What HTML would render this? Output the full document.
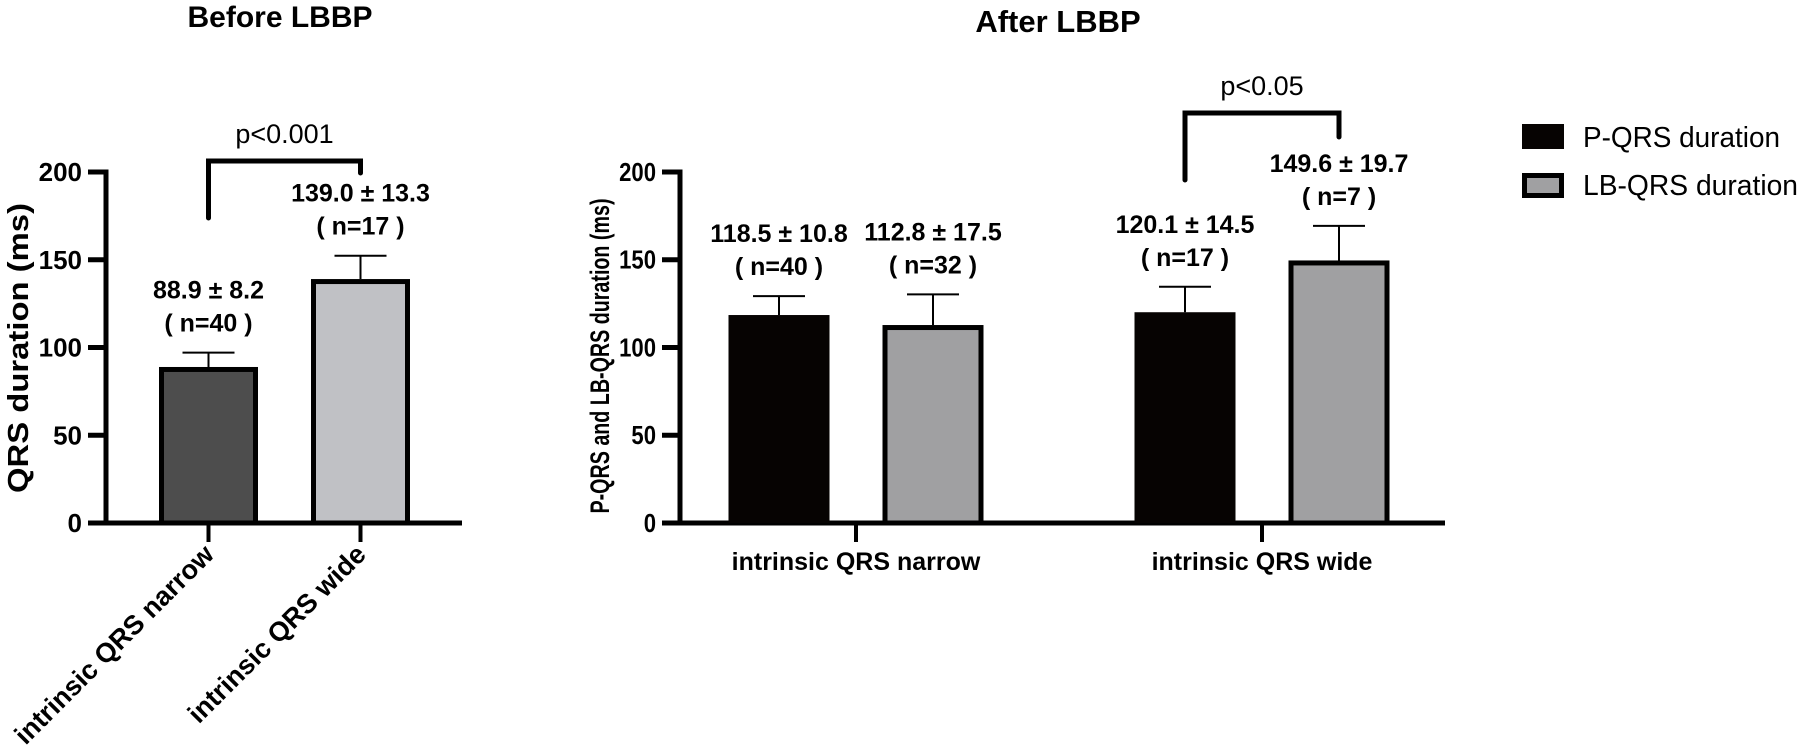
<!DOCTYPE html>
<html><head><meta charset="utf-8"><style>
html,body{margin:0;padding:0;background:#fff;}
svg{display:block;font-family:"Liberation Sans",Arial,sans-serif;}
</style></head><body>
<svg id="fig" width="1798" height="754" viewBox="0 0 1798 754" xmlns="http://www.w3.org/2000/svg">
<text x="280" y="27" font-size="30" font-weight="bold" text-anchor="middle">Before LBBP</text>
<text x="1058" y="32" font-size="31" font-weight="bold" text-anchor="middle">After LBBP</text>
<text transform="translate(28,348) rotate(-90)" font-size="29" font-weight="bold" text-anchor="middle" textLength="290" lengthAdjust="spacingAndGlyphs">QRS duration (ms)</text>
<text transform="translate(609,356) rotate(-90)" font-size="27" font-weight="bold" text-anchor="middle" textLength="315" lengthAdjust="spacingAndGlyphs">P-QRS and LB-QRS duration (ms)</text>
<g>
<rect x="1522" y="124" width="42" height="25" fill="#060302"/>
<text x="1583" y="147" font-size="29" textLength="197" lengthAdjust="spacingAndGlyphs">P-QRS duration</text>
<rect x="1524.5" y="175.5" width="37" height="20" fill="#a0a0a2" stroke="#000" stroke-width="5"/>
<text x="1583" y="195" font-size="29" textLength="215" lengthAdjust="spacingAndGlyphs">LB-QRS duration</text>
</g>
<g id="left"></g>
<g id="right"></g>
</svg>
<script>
// Left chart data
const leftCats = ["intrinsic QRS narrow", "intrinsic QRS wide"];
const leftMeans = [88.9, 139.0];
const leftSD = [8.2, 13.3];
const leftN = [40, 17];
const leftFills = ["#4d4d4d", "#c0c1c5"];
// Right chart data
const rightCats = ["intrinsic QRS narrow", "intrinsic QRS wide"];
const pqrsMeans = [118.5, 120.1];
const pqrsSD = [10.8, 14.5];
const pqrsN = [40, 17];
const lbqrsMeans = [112.8, 149.6];
const lbqrsSD = [17.5, 19.7];
const lbqrsN = [32, 7];
const yTicks = [0, 50, 100, 150, 200];

const NS = "http://www.w3.org/2000/svg";
const y0 = 523, pxPerUnit = 351 / 200;
function yScale(v) { return y0 - v * pxPerUnit; }
function mk(parent, tag, attrs, text) {
  const e = document.createElementNS(NS, tag);
  for (const k in attrs) e.setAttribute(k, attrs[k]);
  if (text !== undefined) e.textContent = text;
  parent.appendChild(e);
  return e;
}
function fmt(v) { return v.toFixed(1); }

function axes(g, axX, xEnd, narrowLabels) {
  let e = mk(g, "line", {x1: axX, y1: yScale(200) - 2.5, x2: axX, y2: y0 + 2.5, stroke: "#000", "stroke-width": 5});
  
  
  e = mk(g, "line", {x1: axX - 18, y1: y0, x2: xEnd, y2: y0, stroke: "#000", "stroke-width": 5});
  
  
  yTicks.forEach(t => {
    const y = yScale(t);
    let tk = mk(g, "line", {x1: axX - 18, y1: y, x2: axX, y2: y, stroke: "#000", "stroke-width": 5});
    
    
    let tl = mk(g, "text", {x: axX - 24, y: y + 9, "font-size": 26, "font-weight": "bold", "text-anchor": "end"}, String(t));
    if (narrowLabels) { tl.setAttribute("transform", `translate(${axX - 24},0) scale(0.85,1) translate(${-(axX - 24)},0)`); }
    
    
  });
}

function bar(g, cx, w, mean, sd, n, fill, border, name) {
  const top = yScale(mean);
  let r;
  if (border) {
    r = mk(g, "rect", {x: cx - w / 2 + 2.5, y: top + 2.5, width: w - 5, height: y0 - top - 2.5, fill: fill, stroke: "#000", "stroke-width": 5});
  } else {
    r = mk(g, "rect", {x: cx - w / 2, y: top, width: w, height: y0 - top, fill: fill});
  }
  
  
  const capY = yScale(mean + sd);
  let eb = mk(g, "path", {d: `M${cx},${top} V${capY} M${cx - 26},${capY} H${cx + 26}`, stroke: "#000", "stroke-width": 2, fill: "none"});
  
  
  let t1 = mk(g, "text", {x: cx, y: capY - 54, "font-size": 25, "font-weight": "bold", "text-anchor": "middle"}, `${fmt(mean)} ± ${fmt(sd)}`);
  
  
  let t2 = mk(g, "text", {x: cx, y: capY - 21, "font-size": 25, "font-weight": "bold", "text-anchor": "middle"}, `( n=${n} )`);
  
  
}

function bracket(g, x1, x2, yTop, yb1, yb2, label) {
  let p = mk(g, "path", {d: `M${x1},${yb1} V${yTop} H${x2} V${yb2}`, stroke: "#000", "stroke-width": 5, fill: "none", "stroke-linecap": "round", "stroke-linejoin": "miter"});
  
  
  let t = mk(g, "text", {x: (x1 + x2) / 2, y: yTop - 18, "font-size": 27, "text-anchor": "middle"}, label);
  
  
}

// Left chart
const L = document.getElementById("left");
axes(L, 106, 462, false);
const leftCenters = [208.5, 360.5];
leftCats.forEach((c, i) => {
  bar(L, leftCenters[i], 99, leftMeans[i], leftSD[i], leftN[i], leftFills[i], true, 'bar-before-' + i);
  let tk = mk(L, "line", {x1: leftCenters[i], y1: y0, x2: leftCenters[i], y2: 542, stroke: "#000", "stroke-width": 4});
  
  
  let lab = mk(L, "text", {transform: `translate(${leftCenters[i] + 7},${556}) rotate(-45)`, "font-size": 27, "font-weight": "bold", "text-anchor": "end"}, c);
  
  
});
bracket(L, leftCenters[0], leftCenters[1], 161, 218, 173, "p<0.001");

// Right chart
const R = document.getElementById("right");
axes(R, 680, 1445, true);
const catCenters = [856, 1262];
rightCats.forEach((c, i) => {
  const cx = catCenters[i];
  bar(R, cx - 77, 101, pqrsMeans[i], pqrsSD[i], pqrsN[i], "#060302", false, 'bar-p-qrs-' + i);
  bar(R, cx + 77, 101, lbqrsMeans[i], lbqrsSD[i], lbqrsN[i], "#a0a0a2", true, 'bar-lb-qrs-' + i);
  let tk = mk(R, "line", {x1: cx, y1: y0, x2: cx, y2: 542, stroke: "#000", "stroke-width": 4});
  
  
  let lab = mk(R, "text", {x: cx, y: 570, "font-size": 25, "font-weight": "bold", "text-anchor": "middle"}, c);
  
  
});
bracket(R, catCenters[1] - 77, catCenters[1] + 77, 113, 180, 137, "p<0.05");
</script>
</body></html>
